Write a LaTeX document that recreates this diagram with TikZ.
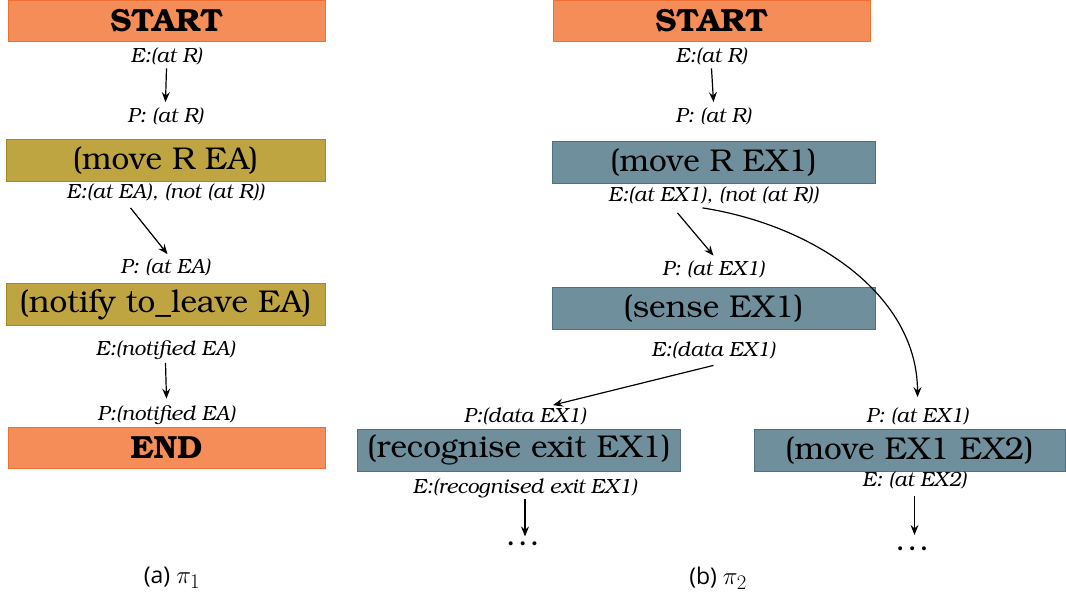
\documentclass[tikz,border=0pt]{standalone}
\usepackage{fontspec}
\newfontfamily\capfont{Open Sans}
\usetikzlibrary{positioning, arrows.meta}

\newcommand\bkfont{\fontencoding{T1}\fontfamily{pbk}\selectfont}
\newcommand\planname[1]{{\fontsize{28}{30}\selectfont$\pi_{#1}$}}

\definecolor{termfill}{HTML}{F58D58}
\definecolor{termdraw}{HTML}{F07033}
\definecolor{olivefill}{HTML}{BFA542}
\definecolor{olivedraw}{HTML}{A38B1E}
\definecolor{steelfill}{HTML}{6E8F9B}
\definecolor{steeldraw}{HTML}{4E7282}

\begin{document}
\begin{tikzpicture}[x=1pt, y=-1pt,
  terminal/.style={draw=termdraw, fill=termfill, line width=1pt, minimum width=317pt, minimum height=41pt, inner sep=0pt, font=\bkfont\bfseries\fontsize{32}{34}\selectfont},
  actA/.style={draw=olivedraw, fill=olivefill, line width=1pt, minimum width=319pt, minimum height=42pt, inner sep=0pt, font=\bkfont\fontsize{31.5}{33}\selectfont},
  actB/.style={draw=steeldraw, fill=steelfill, line width=1pt, minimum width=323pt, minimum height=42pt, inner sep=0pt, font=\bkfont\fontsize{31.5}{33}\selectfont},
  cond/.style={inner sep=0pt, text height=14pt, text depth=5pt, font=\bkfont\itshape\fontsize{20.5}{22}\selectfont},
  more/.style={inner sep=0pt, font=\bkfont\bfseries\fontsize{22}{24}\selectfont},
  caption/.style={inner sep=0pt, font=\capfont\fontsize{23}{25}\selectfont},
  arrow/.style={-{Stealth[length=10pt, width=8pt, inset=3.5pt]}, line width=1.2pt}
]
\useasboundingbox (0,0) rectangle (1066,597);

% plan (a)
\node[terminal] (startA) at (166.5,21) {START};
\node[cond, below=6.5pt of startA] (eA1) {E:(at R)};
\node[actA] (moveA) at (165.5,160) {(move R EA)};
\node[cond, above=10.5pt of moveA] (pA1) {P: (at R)};
\node[cond, below=2.5pt of moveA] (eA2) {E:(at EA), (not (at R))};
\node[actA] (notifyA) at (165.5,304) {(notify to\_leave EA)};
\node[cond, above=3.5pt of notifyA] (pA2) {P: (at EA)};
\node[cond, below=15.5pt of notifyA] (eA3) {E:(notified EA)};
\node[terminal] (endA) at (166.5,448) {END};
\node[cond, above=1.5pt of endA] (pA3) {P:(notified EA)};
\node[caption] (capA) at (172,578) {(a) \planname{1}};

% plan (b)
\node[terminal] (startB) at (711.5,21) {START};
\node[cond, below=6.5pt of startB] (eB1) {E:(at R)};
\node[actB] (moveB1) at (713.5,162) {(move R EX1)};
\node[cond, above=12.5pt of moveB1] (pB1) {P: (at R)};
\node[cond, below=3.5pt of moveB1] (eB2) {E:(at EX1), (not (at R))};
\node[actB] (senseB) at (713.5,308.5) {(sense EX1)};
\node[cond, above=6.5pt of senseB] (pB2) {P: (at EX1)};
\node[cond, below=12.5pt of senseB] (eB3) {E:(data EX1)};
\node[actB] (recogB) at (519,450) {(recognise exit EX1)};
\node[cond, above=0.5pt of recogB, xshift=6pt] (pB3) {P:(data EX1)};
\node[cond, below=7.5pt of recogB, xshift=6pt] (eB4) {E:(recognised exit EX1)};
\node[more, below=43pt of eB4] (dotsB1) {\dots};
\node[actB, minimum width=311pt] (moveB2) at (909.5,450) {(move EX1 EX2)};
\node[cond, above=0.5pt of moveB2, xshift=8pt] (pB4) {P: (at EX1)};
\node[cond, below=0.5pt of moveB2, xshift=5pt] (eB5) {E: (at EX2)};
\node[more, below=55pt of eB5] (dotsB2) {\dots};
\node[caption] (capB) at (718,578) {(b) \planname{2}};

% arrows
\draw[arrow] ([yshift=-0.5pt]eA1.south) -- ([yshift=6.5pt]pA1.north);
\draw[arrow] ([xshift=-35pt,yshift=-4.5pt]eA2.south) -- ([xshift=2pt,yshift=5.5pt]pA2.north);
\draw[arrow] ([yshift=-2.5pt]eA3.south) -- ([yshift=7.5pt]pA3.north);
\draw[arrow] ([yshift=-0.5pt]eB1.south) -- ([yshift=6.5pt]pB1.north);
\draw[arrow] ([xshift=-36pt,yshift=-6.5pt]eB2.south) -- ([yshift=5.5pt]pB2.north);
\draw[arrow] ([xshift=-11pt,yshift=-1.5pt]eB2.south) .. controls +(115,18) and +(0,-100) .. ([yshift=11.5pt]pB4.north);
\draw[arrow] ([yshift=-3.5pt]eB3.south) -- ([xshift=28pt,yshift=3.5pt]pB3.north);
\draw[arrow] ([yshift=-0.5pt]eB4.south) -- ([yshift=5pt]dotsB1.north);
\draw[arrow] ([yshift=-4.5pt]eB5.south) -- ([yshift=11.5pt]dotsB2.north);
\end{tikzpicture}
\end{document}
